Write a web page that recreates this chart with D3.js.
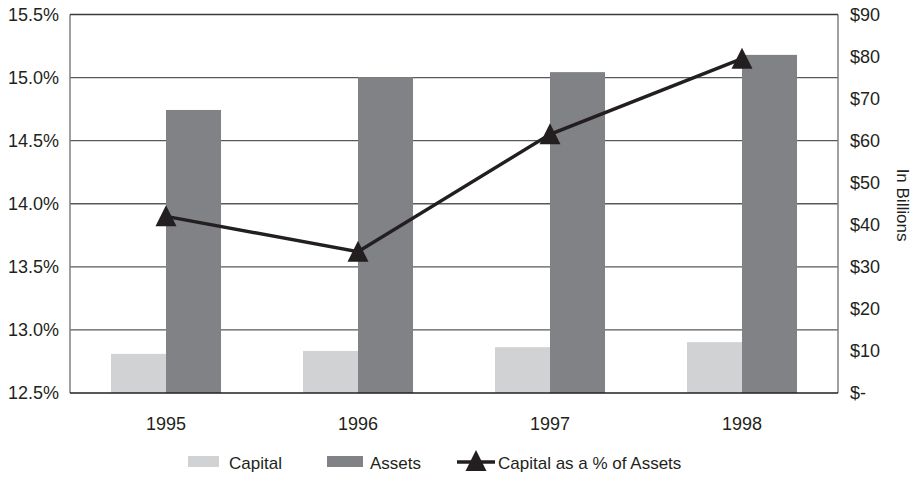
<!DOCTYPE html>
<html>
<head>
<meta charset="utf-8">
<script src="https://cdn.jsdelivr.net/npm/d3@7"></script>
<style>
  html, body { margin: 0; padding: 0; background: #fff; }
  text { font-family: "Liberation Sans", Arial, sans-serif; fill: #231f20; }
</style>
</head>
<body>
<svg id="chart" width="912" height="477"></svg>
<script>
const years = ["1995", "1996", "1997", "1998"];
const capital = [9.3, 10.0, 10.9, 12.1];
const assets = [67.3, 75.1, 76.3, 80.4];
const capitalPct = [13.90, 13.62, 14.55, 15.15];
const leftTicks = [12.5, 13.0, 13.5, 14.0, 14.5, 15.0, 15.5];
const rightTicks = [0, 10, 20, 30, 40, 50, 60, 70, 80, 90];
const seriesNames = ["Capital", "Assets", "Capital as a % of Assets"];

const svg = d3.select("#chart");
const L = 70, R = 838, T = 14.5, B = 393;

const x = d3.scaleBand().domain(years).range([L, R]).paddingInner(0).paddingOuter(0);
const xs = d3.scaleBand().domain(["Capital", "Assets"]).range([0, x.bandwidth()]).paddingInner(0).paddingOuter(0.745);
const yL = d3.scaleLinear().domain([12.5, 15.5]).range([B, T]);
const yR = d3.scaleLinear().domain([0, 90]).range([B, T]);

const colors = { Capital: "#d1d2d4", Assets: "#818286" };

// gridlines
svg.append("g").selectAll("line").data(leftTicks.filter(d => d > 12.5 && d < 15.5)).join("line")
  .attr("x1", L).attr("x2", R).attr("y1", d => yL(d)).attr("y2", d => yL(d))
  .attr("stroke", "#58595b").attr("stroke-width", 1.3);

// bars
const data = years.map((y, i) => ({ year: y, Capital: capital[i], Assets: assets[i] }));
const g = svg.append("g");
data.forEach(d => {
  ["Capital", "Assets"].forEach(k => {
    g.append("rect")
      .attr("x", x(d.year) + xs(k))
      .attr("width", xs.bandwidth())
      .attr("y", yR(d[k]))
      .attr("height", B - yR(d[k]))
      .attr("fill", colors[k]);
  });
});

// frame
svg.append("line").attr("x1", L).attr("x2", L).attr("y1", T).attr("y2", B).attr("stroke", "#808080").attr("stroke-width", 1.5);
svg.append("line").attr("x1", R).attr("x2", R).attr("y1", T).attr("y2", B).attr("stroke", "#808080").attr("stroke-width", 1.5);
svg.append("line").attr("x1", L).attr("x2", R).attr("y1", T).attr("y2", T).attr("stroke", "#3a3a3a").attr("stroke-width", 1.3);
svg.append("line").attr("x1", L).attr("x2", R).attr("y1", B).attr("y2", B).attr("stroke", "#231f20").attr("stroke-width", 1.6);

// axes
const leftAxis = d3.axisLeft(yL).tickValues(leftTicks).tickSize(0).tickPadding(11)
  .tickFormat(d => d3.format(".1f")(d) + "%");
const la = svg.append("g").attr("transform", `translate(${L},0)`).call(leftAxis);
la.select(".domain").remove();
la.selectAll("text").style("font-size", "18px").attr("fill", "#231f20");

const rightAxis = d3.axisRight(yR).tickValues(rightTicks).tickSize(0).tickPadding(12)
  .tickFormat(d => d === 0 ? "$-" : "$" + d);
const ra = svg.append("g").attr("transform", `translate(${R},0)`).call(rightAxis);
ra.select(".domain").remove();
ra.selectAll("text").style("font-size", "18px").attr("fill", "#231f20");

const bottomAxis = d3.axisBottom(x).tickSize(0).tickPadding(24);
const ba = svg.append("g").attr("transform", `translate(0,${B})`).call(bottomAxis);
ba.select(".domain").remove();
ba.selectAll("text").style("font-size", "18px").attr("fill", "#231f20");

// right title
svg.append("text").attr("transform", `translate(897,205) rotate(90)`)
  .attr("text-anchor", "middle").style("font-size", "17px").text("In Billions");

// line
const tri = "M0,-11L10.5,10L-10.5,10Z";
const pts = years.map((y, i) => [x(y) + x.bandwidth() / 2, yL(capitalPct[i])]);
svg.append("path").attr("d", d3.line()(pts)).attr("fill", "none")
  .attr("stroke", "#231f20").attr("stroke-width", 3.5);
svg.append("g").selectAll("path").data(pts).join("path")
  .attr("transform", d => `translate(${d[0]},${d[1]})`).attr("d", tri).attr("fill", "#231f20");

// legend
const lg = svg.append("g");
lg.append("rect").attr("x", 188).attr("y", 456).attr("width", 31).attr("height", 11).attr("fill", colors.Capital);
lg.append("text").attr("x", 229).attr("y", 469).style("font-size", "17px").text(seriesNames[0]);
lg.append("rect").attr("x", 327).attr("y", 456).attr("width", 36).attr("height", 11).attr("fill", colors.Assets);
lg.append("text").attr("x", 370).attr("y", 469).style("font-size", "17px").text(seriesNames[1]);
lg.append("line").attr("x1", 457).attr("x2", 495).attr("y1", 462).attr("y2", 462).attr("stroke", "#231f20").attr("stroke-width", 3.5);
lg.append("path").attr("transform", "translate(476,461)").attr("d", tri).attr("fill", "#231f20");
lg.append("text").attr("x", 498).attr("y", 469).style("font-size", "17px").text(seriesNames[2]);
</script>
</body>
</html>
